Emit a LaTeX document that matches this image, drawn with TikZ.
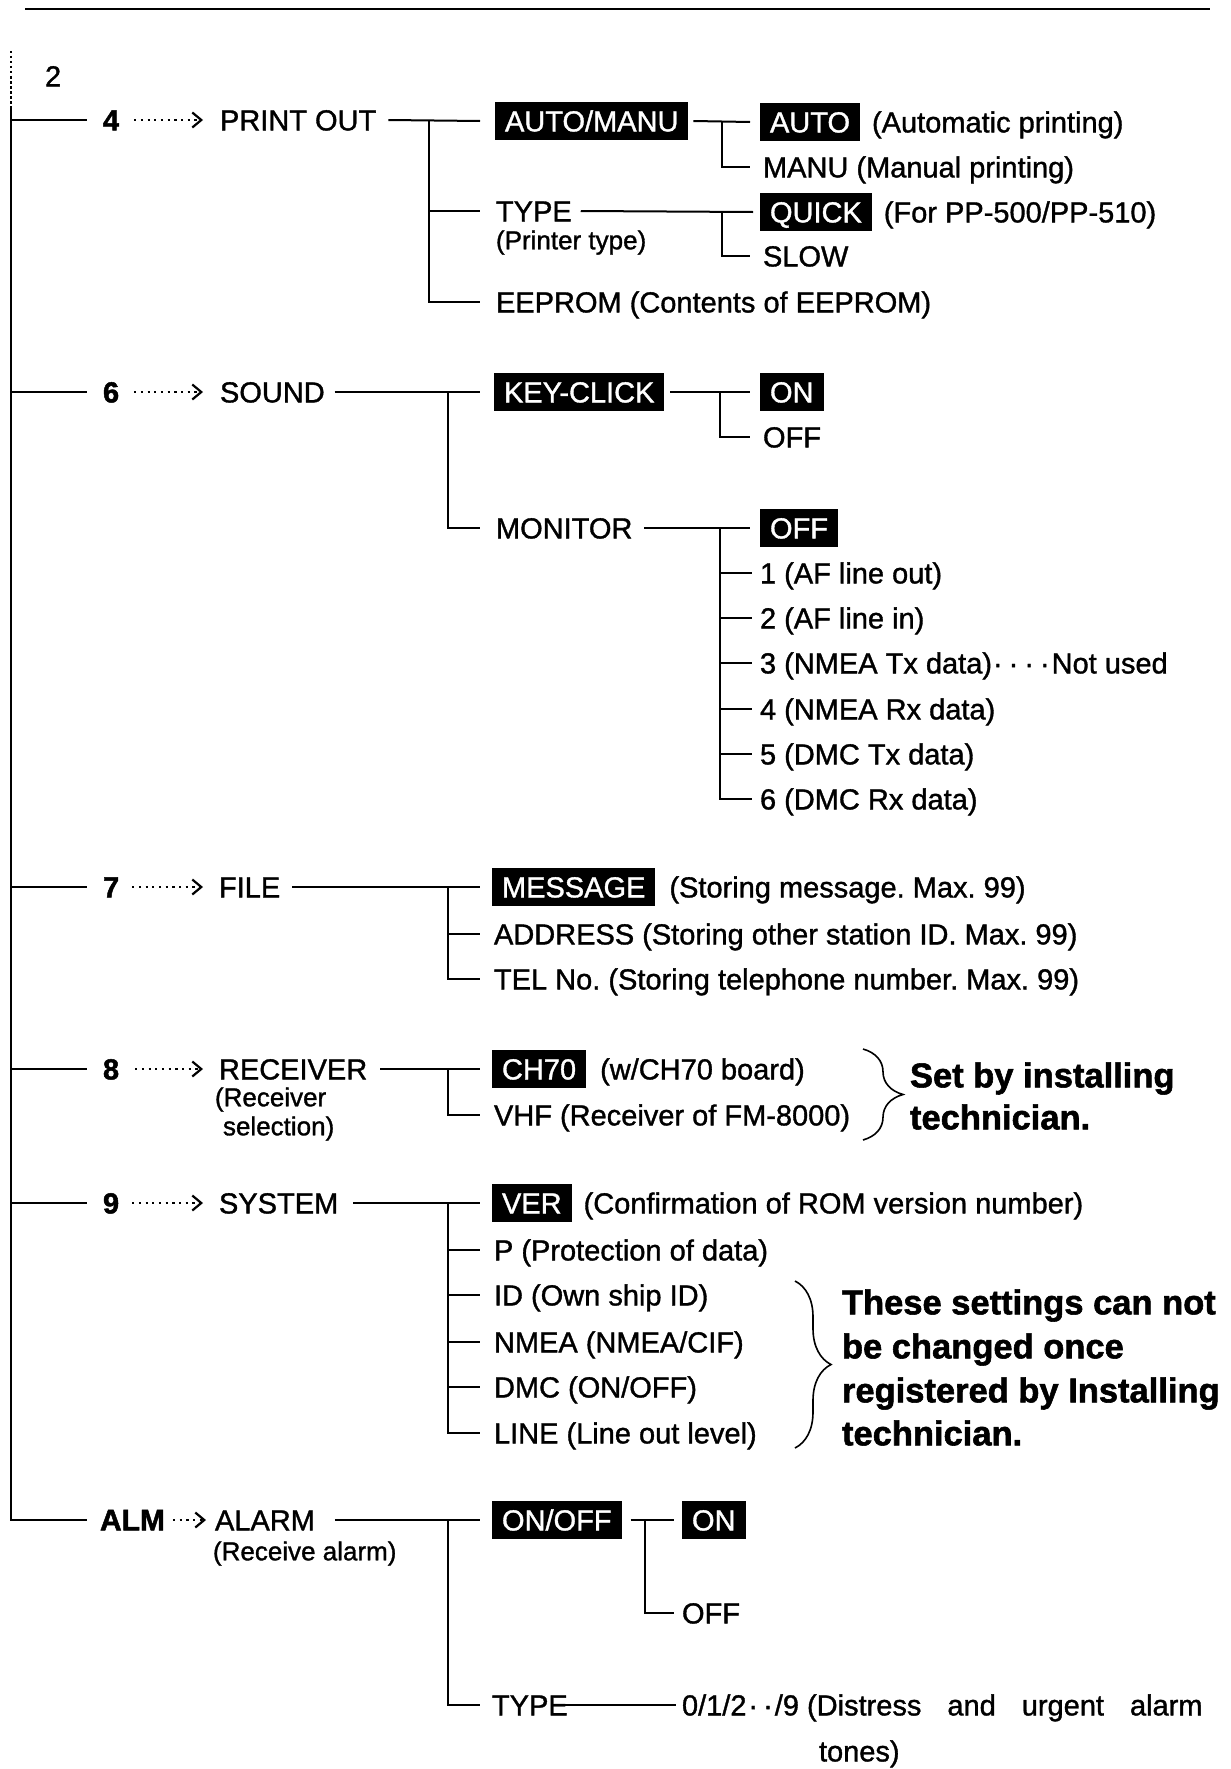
\documentclass[tikz,border=0pt]{standalone}
\usepackage{fontspec}
\setmainfont{Liberation Sans}
\newfontfamily\hv{Liberation Sans}[FakeBold=1.2]
\newfontfamily\hvb{Liberation Sans}[FakeBold=1.6]
\usetikzlibrary{arrows.meta,decorations.pathreplacing,calc}
\frenchspacing
\begin{document}
\begin{tikzpicture}[x=1pt,y=-1pt,
  line width=2pt,
  txt/.style={inner sep=0pt, anchor=west, font=\fontsize{29}{34}\hv, text height=20.8pt, text depth=0pt},
  small/.style={inner sep=0pt, anchor=west, font=\fontsize{26}{30}\hv, text height=18.6pt, text depth=0pt},
  num/.style={txt, font=\fontsize{29}{34}\hvb\bfseries},
  inv/.style={anchor=west, fill=black, text=white, font=\fontsize{29}{34}\hv, inner xsep=10pt, inner ysep=8.5pt, text height=20.8pt, text depth=0pt},
  note/.style={inner sep=0pt, anchor=west, font=\fontsize{34.5}{40}\hvb\bfseries, text height=24.7pt, text depth=0pt},
  dotarrow/.style={line width=2.2pt, dash pattern=on 2.2pt off 4.5pt, -{Straight Barb[length=9pt,width=15pt,line width=2.2pt]}},
  mybrace/.style={line width=1.6pt, decorate, decoration={brace, amplitude=#1}},
]
\useasboundingbox (0,0) rectangle (1231,1769);
\fill[white] (0,0) rectangle (1231,1769);

% top rule
\draw[line width=1.8pt] (25,9) -- (1210,9);

% spine
\coordinate (sp0) at (11,51);
\coordinate (sp1) at (11,107);
\coordinate (spE) at (11,1520);
\draw[line width=1.5pt, dash pattern=on 2.5pt off 2.5pt] (sp0) -- (sp1);
\node[txt] (two) at (44,76) {2};

% ---------------- row 4 : PRINT OUT
\node[num] (n4) at (102,120) {4};
\node[txt] (printout) at (219,120) {PRINT OUT};
\draw (sp1) -- (11,120) -- ([xshift=-15pt]n4.west);
\draw[dotarrow] ([xshift=14pt]n4.east) -- ([xshift=-16pt]printout.west);

\node[inv] (am) at (494,121) {AUTO/MANU};
\node[txt] (type) at (495,211) {TYPE};
\node[small] (ptype) at (495,240) {(Printer type)};
\node[txt] (eeprom) at (495,302) {EEPROM (Contents of EEPROM)};
\draw ([xshift=11pt]printout.east) -- ([xshift=-14pt]am.west);
\draw (429,120) |- ([xshift=-15pt]eeprom.west);
\draw (429,211) -- ([xshift=-15pt]type.west);

\node[inv] (auto) at (759,122) {AUTO};
\node[txt] (autod) at ([xshift=10pt]auto.east) {(Automatic printing)};
\node[txt] (manu) at (762,167) {MANU (Manual printing)};
\draw ([xshift=4pt]am.east) -- ([xshift=-9pt]auto.west);
\draw (722,121) |- ([xshift=-12pt]manu.west);

\node[inv] (quick) at (759,212) {QUICK};
\node[txt] (quickd) at ([xshift=10pt]quick.east) {(For PP-500/PP-510)};
\node[txt] (slow) at (762,256) {SLOW};
\draw ([xshift=8pt]type.east) -- ([xshift=-6pt]quick.west);
\draw (722,212) |- ([xshift=-12pt]slow.west);

% ---------------- row 6 : SOUND
\node[num] (n6) at (102,392) {6};
\node[txt] (sound) at (219,392) {SOUND};
\draw (11,392) -- ([xshift=-15pt]n6.west);
\draw[dotarrow] ([xshift=14pt]n6.east) -- ([xshift=-16pt]sound.west);

\node[inv] (kc) at (493,392) {KEY-CLICK};
\node[txt] (monitor) at (495,528) {MONITOR};
\draw ([xshift=9pt]sound.east) -- ([xshift=-13pt]kc.west);
\draw (448,392) |- ([xshift=-15pt]monitor.west);

\node[inv] (on1) at (759,392) {ON};
\node[txt] (off1) at (762,437) {OFF};
\draw ([xshift=5pt]kc.east) -- ([xshift=-9pt]on1.west);
\draw (720,392) |- ([xshift=-12pt]off1.west);

\node[inv] (off2) at (759,528) {OFF};
\draw ([xshift=11pt]monitor.east) -- ([xshift=-9pt]off2.west);
\node[txt] (m1) at (759,573) {1 (AF line out)};
\node[txt] (m2) at (759,618) {2 (AF line in)};
\node[txt] (m3) at (759,663) {3 (NMEA Tx data)\hspace{1pt}·\hspace{6pt}·\hspace{6pt}·\hspace{6pt}·\hspace{2pt}Not used};
\node[txt] (m4) at (759,709) {4 (NMEA Rx data)};
\node[txt] (m5) at (759,754) {5 (DMC Tx data)};
\node[txt] (m6) at (759,799) {6 (DMC Rx data)};
\draw (720,528) |- ([xshift=-7pt]m6.west);
\foreach \m in {m1,m2,m3,m4,m5}{\draw (720,0 |- \m.west) -- ([xshift=-7pt]\m.west);}

% ---------------- row 7 : FILE
\node[num] (n7) at (102,887) {7};
\node[txt] (file) at (218,887) {FILE};
\draw (11,887) -- ([xshift=-15pt]n7.west);
\draw[dotarrow] ([xshift=12pt]n7.east) -- ([xshift=-15pt]file.west);

\node[inv] (msg) at (491,887) {MESSAGE};
\node[txt] (msgd) at ([xshift=12pt]msg.east) {(Storing message. Max. 99)};
\node[txt] (addr) at (493,934) {ADDRESS (Storing other station ID. Max. 99)};
\node[txt] (tel) at (493,979) {TEL No. (Storing telephone number. Max. 99)};
\draw ([xshift=11pt]file.east) -- ([xshift=-11pt]msg.west);
\draw (448,887) |- ([xshift=-13pt]tel.west);
\draw (448,934) -- ([xshift=-13pt]addr.west);

% ---------------- row 8 : RECEIVER
\node[num] (n8) at (102,1069) {8};
\node[txt] (recv) at (218,1069) {RECEIVER};
\node[small] (recv2) at (214,1097) {(Receiver};
\node[small] (recv3) at (222,1126) {selection)};
\draw (11,1069) -- ([xshift=-15pt]n8.west);
\draw[dotarrow] ([xshift=15pt]n8.east) -- ([xshift=-15pt]recv.west);

\node[inv] (ch70) at (491,1069) {CH70};
\node[txt] (ch70d) at ([xshift=12pt]ch70.east) {(w/CH70 board)};
\node[txt] (vhf) at (493,1115) {VHF (Receiver of FM-8000)};
\draw ([xshift=12pt]recv.east) -- ([xshift=-11pt]ch70.west);
\draw (448,1069) |- ([xshift=-13pt]vhf.west);

\draw[mybrace=40pt] (863,1049) -- (863,1140);
\node[note] (set1) at (909,1075) {Set by installing};
\node[note] (set2) at (909,1117) {technician.};

% ---------------- row 9 : SYSTEM
\node[num] (n9) at (102,1203) {9};
\node[txt] (sys) at (218,1203) {SYSTEM};
\draw (11,1203) -- ([xshift=-15pt]n9.west);
\draw[dotarrow] ([xshift=12pt]n9.east) -- ([xshift=-15pt]sys.west);

\node[inv] (ver) at (491,1203) {VER};
\node[txt] (verd) at ([xshift=10pt]ver.east) {(Confirmation of ROM version number)};
\node[txt] (s1) at (493,1250) {P (Protection of data)};
\node[txt] (s2) at (493,1295) {ID (Own ship ID)};
\node[txt] (s3) at (493,1342) {NMEA (NMEA/CIF)};
\node[txt] (s4) at (493,1387) {DMC (ON/OFF)};
\node[txt] (s5) at (493,1433) {LINE (Line out level)};
\draw ([xshift=14pt]sys.east) -- ([xshift=-11pt]ver.west);
\draw (448,1203) |- ([xshift=-13pt]s5.west);
\foreach \s in {s1,s2,s3,s4}{\draw (448,0 |- \s.west) -- ([xshift=-13pt]\s.west);}

\draw[mybrace=36pt] (795,1281) -- (795,1448);
\node[note] (c1) at (841,1302) {These settings can not};
\node[note] (c2) at (841,1346) {be changed once};
\node[note] (c3) at (841,1390) {registered by Installing};
\node[note] (c4) at (841,1433) {technician.};

% ---------------- ALM : ALARM
\node[txt, font=\fontsize{30}{34}\hvb\bfseries] (alm) at (99,1520) {ALM};
\node[txt] (alarm) at (214,1520) {ALARM};
\node[small] (ralarm) at (212,1551) {(Receive alarm)};
\draw (sp1) -- (spE) -- ([xshift=-12pt]alm.west);
\draw[dotarrow] ([xshift=7pt]alm.east) -- ([xshift=-8pt]alarm.west);

\node[inv] (onoff) at (491,1520) {ON/OFF};
\node[txt] (type2) at (491,1705) {TYPE};
\draw ([xshift=19pt]alarm.east) -- ([xshift=-11pt]onoff.west);
\draw (448,1520) |- ([xshift=-11pt]type2.west);

\node[inv] (on3) at (681,1520) {ON};
\node[txt] (off3) at (681,1613) {OFF};
\draw ([xshift=8pt]onoff.east) -- ([xshift=-7pt]on3.west);
\draw (645,1520) |- ([xshift=-7pt]off3.west);

\node[txt] (tones) at (681,1705) {0/1/2\hspace{2pt}·\hspace{5pt}·\hspace{2pt}/9 (Distress\hspace{26pt}and\hspace{26pt}urgent\hspace{26pt}alarm};
\node[txt] (tones2) at (818,1751) {tones)};
\draw ([xshift=-12pt]type2.east) -- ([xshift=-5pt]tones.west);
\end{tikzpicture}
\end{document}
